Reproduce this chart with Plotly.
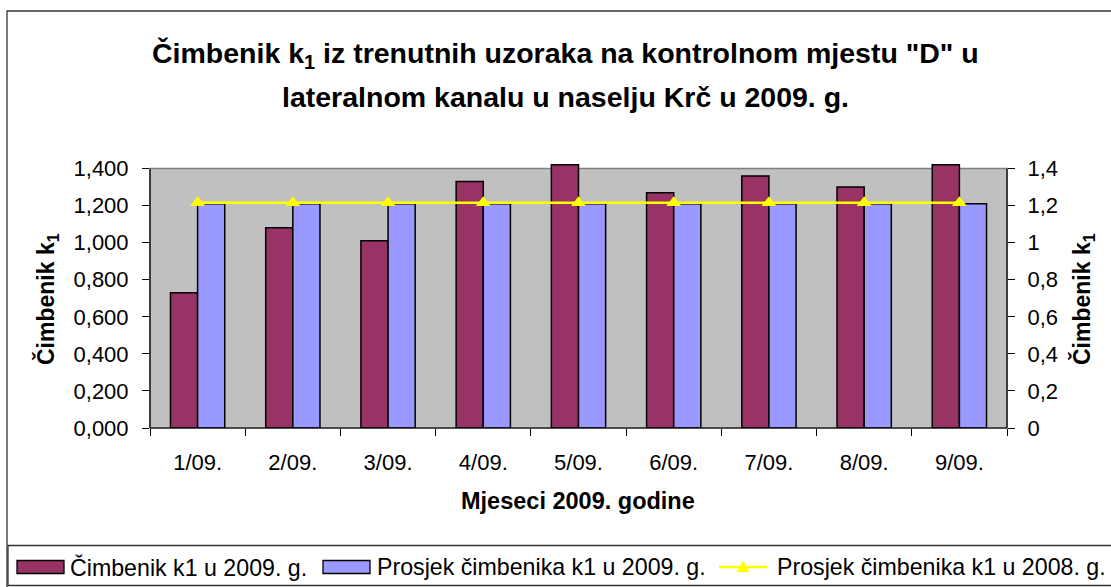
import plotly.graph_objects as go

# ---------------- data ----------------
months = ["1/09.", "2/09.", "3/09.", "4/09.", "5/09.", "6/09.", "7/09.", "8/09.", "9/09."]
k1_2009 = [0.73, 1.08, 1.01, 1.33, 1.42, 1.27, 1.36, 1.30, 1.42]
avg_2009 = [1.21, 1.21, 1.21, 1.21, 1.21, 1.21, 1.21, 1.21, 1.21]
avg_2008 = [1.215, 1.215, 1.215, 1.215, 1.215, 1.215, 1.215, 1.215, 1.215]

series_names = ["Čimbenik k1 u 2009. g.", "Prosjek čimbenika k1 u 2009. g.", "Prosjek čimbenika k1 u 2008. g."]
y_tickvals = [0, 0.2, 0.4, 0.6, 0.8, 1.0, 1.2, 1.4]
y_left_ticktext = ["0,000", "0,200", "0,400", "0,600", "0,800", "1,000", "1,200", "1,400"]
y_right_ticktext = ["0", "0,2", "0,4", "0,6", "0,8", "1", "1,2", "1,4"]

title_line1 = "Čimbenik k<sub>1</sub> iz trenutnih uzoraka na kontrolnom mjestu \"D\" u"
title_line2 = "lateralnom kanalu u naselju Krč u 2009. g."
y_title = "Čimbenik k<sub>1</sub>"
x_title = "Mjeseci 2009. godine"

# ---------------- layout geometry ----------------
W, H = 1111, 587
L, R, T, B = 150, 104, 163, 159
PW, PH = W - L - R, H - T - B
Y_MAX = 1.43
Y_TOP = 1.4

def px_x(px):
    return (px - L) / PW

def px_y(py):
    return (H - B - py) / PH

FONT = "Liberation Sans, Arial, sans-serif"
RED, BLUE, YELLOW, SILVER = "#993366", "#9999FF", "#FFFF00", "#C0C0C0"

fig = go.Figure()
fig.add_trace(go.Bar(x=months, y=k1_2009, name=series_names[0],
                     marker=dict(color=RED, line=dict(color="black", width=1.5)), showlegend=False))
fig.add_trace(go.Bar(x=months, y=avg_2009, name=series_names[1],
                     marker=dict(color=BLUE, line=dict(color="black", width=1.5)), showlegend=False))
fig.add_trace(go.Scatter(x=months, y=avg_2008, name=series_names[2], yaxis="y2", mode="lines+markers",
                         line=dict(color=YELLOW, width=2.5),
                         marker=dict(symbol="triangle-up", size=13, color=YELLOW), showlegend=False))

y_top_p = Y_TOP / Y_MAX
shapes = [
    # plot area background
    dict(type="rect", xref="paper", yref="paper", x0=0, x1=1, y0=0, y1=y_top_p,
         fillcolor=SILVER, line=dict(color="#808080", width=1.5), layer="below"),
    # axis lines
    dict(type="line", xref="paper", yref="paper", x0=0, x1=0, y0=0, y1=y_top_p,
         line=dict(color="black", width=1.2), layer="above"),
    dict(type="line", xref="paper", yref="paper", x0=1, x1=1, y0=0, y1=y_top_p,
         line=dict(color="black", width=1.2), layer="above"),
    dict(type="line", xref="paper", yref="paper", x0=0, x1=1, y0=0, y1=0,
         line=dict(color="black", width=1.2), layer="above"),
    # outer border
    dict(type="rect", xref="paper", yref="paper", x0=px_x(7), x1=px_x(1116), y0=px_y(592), y1=px_y(11),
         line=dict(color="#333333", width=1.3), layer="below"),
    # legend box
    dict(type="rect", xref="paper", yref="paper", x0=px_x(8), x1=px_x(1116), y0=px_y(585.5), y1=px_y(545.5),
         line=dict(color="#333333", width=1.3), layer="below"),
    # legend swatches
    dict(type="rect", xref="paper", yref="paper", x0=px_x(17), x1=px_x(64), y0=px_y(573.5), y1=px_y(560.5),
         fillcolor=RED, line=dict(color="black", width=1.3)),
    dict(type="rect", xref="paper", yref="paper", x0=px_x(323), x1=px_x(370), y0=px_y(573.5), y1=px_y(560.5),
         fillcolor=BLUE, line=dict(color="black", width=1.3)),
    dict(type="line", xref="paper", yref="paper", x0=px_x(719), x1=px_x(767), y0=px_y(567), y1=px_y(567),
         line=dict(color=YELLOW, width=2.5)),
    dict(type="path", xref="paper", yref="paper",
         path=f"M {px_x(737)},{px_y(572)} L {px_x(749)},{px_y(572)} L {px_x(743)},{px_y(561)} Z",
         fillcolor=YELLOW, line=dict(color=YELLOW, width=0.5)),
]

annotations = [
    dict(text=title_line1, x=px_x(565), y=px_y(55), xref="paper", yref="paper", showarrow=False,
         xanchor="center", yanchor="middle", font=dict(family=FONT, size=28.5, color="black"),),
    dict(text=title_line2, x=px_x(565), y=px_y(97), xref="paper", yref="paper", showarrow=False,
         xanchor="center", yanchor="middle", font=dict(family=FONT, size=28.5, color="black")),
    dict(text=y_title, x=px_x(47), y=px_y(299), xref="paper", yref="paper", showarrow=False, textangle=-90,
         xanchor="center", yanchor="middle", font=dict(family=FONT, size=23, color="black")),
    dict(text=y_title, x=px_x(1083), y=px_y(299), xref="paper", yref="paper", showarrow=False, textangle=-90,
         xanchor="center", yanchor="middle", font=dict(family=FONT, size=23, color="black")),
    dict(text=x_title, x=px_x(578), y=px_y(501), xref="paper", yref="paper", showarrow=False,
         xanchor="center", yanchor="middle", font=dict(family=FONT, size=23.5, color="black")),
    dict(text=series_names[0], x=px_x(68), y=px_y(567), xref="paper", yref="paper", showarrow=False,
         xanchor="left", yanchor="middle", font=dict(family=FONT, size=23.2, color="black")),
    dict(text=series_names[1], x=px_x(375), y=px_y(567), xref="paper", yref="paper", showarrow=False,
         xanchor="left", yanchor="middle", font=dict(family=FONT, size=23.2, color="black")),
    dict(text=series_names[2], x=px_x(775), y=px_y(567), xref="paper", yref="paper", showarrow=False,
         xanchor="left", yanchor="middle", font=dict(family=FONT, size=23.2, color="black")),
]
# bold for title and axis titles
for a in annotations[:5]:
    a["text"] = "<b>" + a["text"] + "</b>"

fig.update_layout(
    width=W, height=H,
    margin=dict(l=L, r=R, t=T, b=B, pad=0),
    paper_bgcolor="white", plot_bgcolor="rgba(0,0,0,0)",
    barmode="group", bargap=0.43, bargroupgap=0,
    font=dict(family=FONT, size=22, color="black"),
    shapes=shapes, annotations=annotations,
    xaxis=dict(type="category", range=[-0.5, 8.5], tickson="boundaries", ticks="outside", ticklen=7,
               tickcolor="black", tickwidth=1, showgrid=False, showline=False, zeroline=False,
               ticklabelstandoff=19, tickfont=dict(size=22)),
    yaxis=dict(range=[0, Y_MAX], tickvals=y_tickvals, ticktext=y_left_ticktext, ticks="outside", ticklen=7,
               tickcolor="black", showgrid=False, showline=False, zeroline=False,
               ticklabelstandoff=9, tickfont=dict(size=22)),
    yaxis2=dict(range=[0, Y_MAX], tickvals=y_tickvals, ticktext=y_right_ticktext, overlaying="y", side="right",
                ticks="outside", ticklen=7, tickcolor="black", showgrid=False, showline=False, zeroline=False,
                ticklabelstandoff=8, tickfont=dict(size=22)),
)

fig.write_html("out.html", config={"displayModeBar": False},
               post_script="document.body.style.margin='0';document.body.style.overflow='hidden';")
